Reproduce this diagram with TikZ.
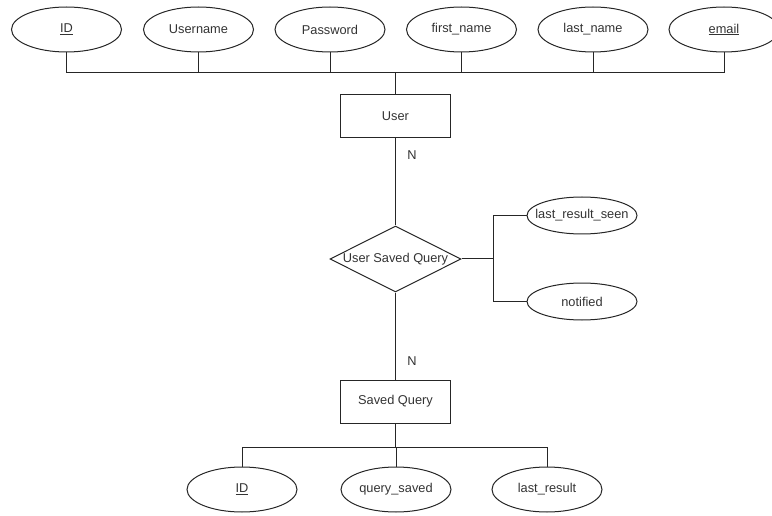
\documentclass[tikz,border=0pt]{standalone}
\usepackage{fontspec}
\setmainfont{Liberation Sans}
\usetikzlibrary{shapes.geometric}
% label whose width does not enlarge the shape around it
\newcommand{\fixedlbl}[1]{\makebox[0pt]{#1}}
\begin{document}
\begin{tikzpicture}[x=1pt,y=-1pt,
  every node/.style={font=\fontsize{12.8}{15}\selectfont, text=black!80},
  attr/.style={draw=black!85, line width=1pt, ellipse, inner sep=0pt, minimum width=110pt, minimum height=45pt},
  smallattr/.style={attr, minimum height=37pt},
  entity/.style={draw=black!85, line width=1pt, rectangle, inner sep=0pt, minimum width=110pt, minimum height=43pt},
  relation/.style={draw=black!85, line width=1pt, diamond, aspect=2, inner sep=0pt, minimum width=131pt, minimum height=66pt},
  link/.style={draw=black!85, line width=1pt},
  card/.style={inner sep=0pt, anchor=center}]
\useasboundingbox (0,0) rectangle (772,516);

% User entity and its attributes
\node[attr] (uid)   at (66.5,29.5)  {\fixedlbl{\underline{ID}}};
\node[attr] (uname) at (198.5,29.5) {\fixedlbl{Username}};
\node[attr] (upass) at (330,29.5)   {\fixedlbl{Password}};
\node[attr] (ufirst) at (461.5,29.5) {\fixedlbl{first\_name}};
\node[attr] (ulast) at (593,29.5)   {\fixedlbl{last\_name}};
\node[attr] (umail) at (724,29.5)   {\fixedlbl{\underline{email}}};
\node[entity] (user) at (395.5,116.5) {User};
\coordinate (topbus) at (395.5,73);

% Relationship and its attributes
\node[relation] (usq) at (395.5,259) {\fixedlbl{User Saved Query}};
\node[smallattr] (lrs) at (582,215.5) {\fixedlbl{last\_result\_seen}};
\node[smallattr] (notif) at (582,301.5) {\fixedlbl{notified}};
\coordinate (rjoint) at (493,259);

% Saved Query entity and its attributes
\node[entity] (sq) at (395.5,401.5) {Saved Query};
\node[attr] (qid)    at (242,489.5) {\fixedlbl{\underline{ID}}};
\node[attr] (qsaved) at (396,489.5) {\fixedlbl{query\_saved}};
\node[attr] (qlast)  at (547,489.5) {\fixedlbl{last\_result}};
\coordinate (botbus) at (395.5,447);

% Cardinalities
\node[card] (n1) at (412,155) {N};
\node[card] (n2) at (412,361) {N};

% Connectors
\foreach \a in {uid,uname,upass,ufirst,ulast,umail}
  \draw[link] (\a.south) |- (topbus);
\draw[link] (topbus) -- (user.north);
\draw[link] (user.south) -- (usq.north);
\draw[link] (usq.south) -- (sq.north);
\draw[link] (usq.east) -- (rjoint);
\draw[link] (rjoint) |- (lrs.west);
\draw[link] (rjoint) |- (notif.west);
\draw[link] (sq.south) -- (botbus);
\foreach \b in {qid,qsaved,qlast}
  \draw[link] (botbus) -| (\b.north);
\end{tikzpicture}
\end{document}
